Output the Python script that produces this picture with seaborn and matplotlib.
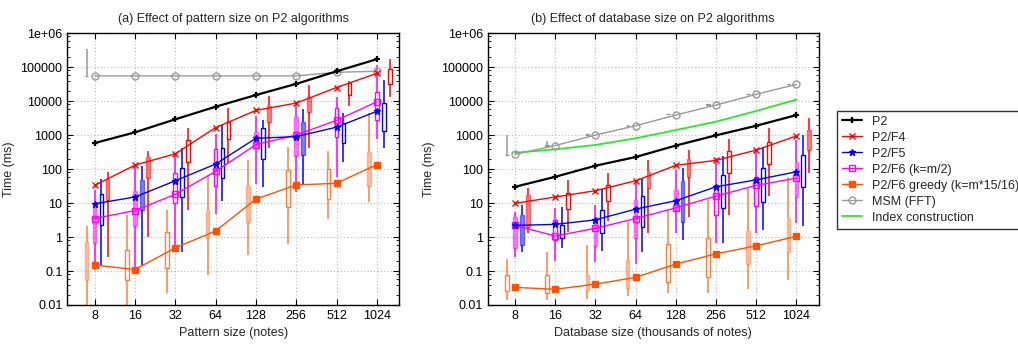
import numpy as np
import matplotlib
matplotlib.use("Agg")
import matplotlib.pyplot as plt
from matplotlib.lines import Line2D
import seaborn as sns
import pandas as pd

# ---------------- data ----------------
SIZES = [8, 16, 32, 64, 128, 256, 512, 1024]
TICK_LABELS = ["8", "16", "32", "64", "128", "256", "512", "1024"]
Y_TICKS = [0.01, 0.1, 1, 10, 100, 1000, 10000, 100000, 1e6]
Y_TICK_LABELS = ["0.01", "0.1", "1", "10", "100", "1000", "10000", "100000", "1e+06"]
NAN = float("nan")

# Panel (a): pattern size -- line values
A_P2 = [580, 1200, 2900, 6800, 15000, 32000, 75000, 170000]
A_F4 = [33, 130, 280, 1650, 5300, 8700, 25000, 65000]
A_F5 = [9.5, 15, 45, 140, 800, 900, 1700, 5000]
A_F6 = [3.5, 6, 18, 85, 520, 1000, 2700, 9500]
A_GREEDY = [0.15, 0.11, 0.48, 1.5, 13, 34, 38, 135]
A_MSM = [55000, 55000, 55000, 55000, 55000, 55000, 70000, 75000]

# Panel (a) candlesticks: whisker high, box top, box bottom, whisker low, filled
A_F4_HI = [83, 350, 1600, 6100, 14000, 29000, 40000, 170000]
A_F4_Q3 = [51, 230, 710, 2470, 7100, 13500, 35000, 85000]
A_F4_Q1 = [12, 55, 160, 740, 2470, 4900, 15000, 31500]
A_F4_LO = [0.26, 1.0, 6.2, 155, 410, 410, 7100, 13400]
A_F4_FILL = [1, 1, 0, 0, 1, 1, 0, 0]

A_F5_HI = [51, 122, 410, 1950, 2750, 5700, 4400, 41000]
A_F5_Q3 = [18, 46, 105, 410, 1580, 2350, 2300, 8900]
A_F5_Q1 = [2.2, 6.2, 15.5, 54, 195, 260, 570, 1350]
A_F5_LO = [0.15, 0.15, 0.37, 11.7, 29, 34, 160, 410]
A_F5_FILL = [0, 1, 0, 0, 0, 1, 0, 0]

A_F6_HI = [24, 117, 260, 1070, 3600, 7600, 13000, 115000]
A_F6_Q3 = [8.7, 22, 76, 380, 1250, 3300, 6100, 18500]
A_F6_Q1 = [0.66, 2.1, 9.7, 32, 410, 240, 850, 2750]
A_F6_LO = [0.107, 0.11, 0.42, 4.8, 36, 21, 59, 790]
A_F6_FILL = [1, 1, 0, 0, 1, 1, 0, 0]

A_GR_HI = [2.1, 4.5, 6.2, 66, 180, 430, 350, 4400]
A_GR_Q3 = [0.7, 0.42, 1.4, 6.2, 32, 93, 98, 320]
A_GR_Q1 = [0.055, 0.055, 0.12, 0.91, 2.8, 7.4, 13, 32]
A_GR_LO = [0.005, 0.005, 0.022, 0.076, 0.3, 0.62, 3.5, 11]
A_GR_FILL = [1, 0, 0, 1, 1, 0, 0, 1]

A_MSM_HI = [340000, NAN, NAN, NAN, NAN, NAN, NAN, NAN]
A_MSM_Q3 = [56000, NAN, NAN, NAN, NAN, NAN, NAN, NAN]
A_MSM_Q1 = [54000, NAN, NAN, NAN, NAN, NAN, NAN, NAN]
A_MSM_LO = [53000, NAN, NAN, NAN, NAN, NAN, NAN, NAN]

# Panel (b): database size -- line values
B_P2 = [30, 59, 125, 225, 490, 980, 1870, 3870]
B_F4 = [9.8, 15, 23, 45, 128, 180, 360, 940]
B_F5 = [2.2, 2.35, 3.2, 6.6, 11.7, 30, 48, 83]
B_F6 = [2.2, 1.07, 1.8, 3.5, 7.2, 16, 33, 54]
B_GREEDY = [0.033, 0.029, 0.041, 0.065, 0.16, 0.32, 0.55, 1.05]
B_MSM = [270, 490, 1000, 1870, 3870, 7600, 15800, 31000]
B_INDEX = [300, 380, 510, 800, 1400, 2470, 5100, 11000]

B_F4_HI = [27, 46, 74, 180, 360, 740, 1600, 3100]
B_F4_Q3 = [17, 20, 34, 83, 195, 350, 640, 1400]
B_F4_Q1 = [2.0, 6.5, 11.7, 27, 59, 76, 145, 360]
B_F4_LO = [1.35, 1.45, 3.0, 1.35, 4.0, 4.5, 16, 75]
B_F4_FILL = [1, 0, 0, 1, 1, 0, 0, 1]

B_F5_HI = [8.7, 7.8, 26, 54, 105, 240, 440, 1000]
B_F5_Q3 = [4.5, 2.2, 6.2, 16, 43, 66, 105, 260]
B_F5_Q1 = [0.58, 0.91, 1.3, 2.0, 2.8, 6.9, 11, 29]
B_F5_LO = [0.37, 0.47, 0.4, 0.37, 0.81, 0.65, 1.6, 2.1]
B_F5_FILL = [1, 0, 0, 0, 1, 0, 0, 0]

B_F6_HI = [5.5, 6.9, 8.7, 43, 93, 205, 360, 710]
B_F6_Q3 = [4.0, 3.2, 4.0, 12.3, 24, 34, 59, 160]
B_F6_Q1 = [0.47, 0.81, 0.55, 0.91, 6.2, 4.5, 8.0, 15.5]
B_F6_LO = [0.26, 0.2, 0.19, 0.16, 1.3, 0.67, 1.35, 2.6]
B_F6_FILL = [1, 0, 1, 1, 1, 0, 0, 1]

B_GR_HI = [0.23, 0.37, 0.58, 2.8, 6.2, 12.3, 27, 59]
B_GR_Q3 = [0.076, 0.076, 0.076, 0.21, 0.62, 0.91, 1.5, 3.6]
B_GR_Q1 = [0.025, 0.022, 0.027, 0.031, 0.049, 0.065, 0.16, 0.37]
B_GR_LO = [0.014, 0.014, 0.015, 0.018, 0.022, 0.022, 0.029, 0.053]
B_GR_FILL = [0, 0, 1, 1, 0, 0, 1, 1]

B_MSM_HI = [1000, 650, 1060, 1950, 4200, 8100, 16500, 32500]
B_MSM_Q3 = [265, 500, 1040, 1900, 4100, 7950, 16000, 32000]
B_MSM_Q1 = [255, 490, 1020, 1880, 4050, 7850, 15800, 31500]
B_MSM_LO = [250, 480, 1000, 1850, 4000, 7700, 15500, 31000]

LEGEND_LABELS = ["P2", "P2/F4", "P2/F5", "P2/F6 (k=m/2)",
                 "P2/F6 greedy (k=m*15/16)", "MSM (FFT)", "Index construction"]

# ---------------- style ----------------
C_P2 = "#000000"
C_F4 = "#ff0000"
C_F5 = "#0000ff"
C_F6 = "#ff00ff"
C_GR = "#ff5000"
C_GR_BOX = "#ff7f40"
C_MSM = "#999999"
C_IDX = "#22ee22"

sns.set_theme(style="ticks")
plt.rcParams["font.family"] = ["Liberation Sans", "DejaVu Sans"]
plt.rcParams["font.size"] = 9

fig = plt.figure(figsize=(10.18, 3.46), dpi=100)
ax_a = fig.add_axes([0.0661, 0.1185, 0.3259, 0.786])
ax_b = fig.add_axes([0.4791, 0.1185, 0.3250, 0.786])

X = np.log2(SIZES)
BOX_W = 0.09


def draw_boxes(ax, off, hi, q3, q1, lo, fill, color, alpha_fill=0.5):
    for i, x in enumerate(X):
        if np.isnan(hi[i]):
            continue
        xx = x + off
        ax.vlines(xx, q3[i], hi[i], color=color, lw=1.1, zorder=2)
        ax.vlines(xx, lo[i], q1[i], color=color, lw=1.1, zorder=2)
        if fill is not None and fill[i]:
            ax.bar(xx, q3[i] - q1[i], bottom=q1[i], width=BOX_W,
                   facecolor=color, alpha=alpha_fill, edgecolor=color,
                   lw=1.0, zorder=2)
        else:
            ax.bar(xx, q3[i] - q1[i], bottom=q1[i], width=BOX_W,
                   facecolor="none", edgecolor=color, lw=1.0, zorder=2)


def draw_line(ax, vals, color, marker, ms, lw=1.0, mfc=None, mew=1.0):
    df = pd.DataFrame({"x": X, "y": vals})
    sns.lineplot(data=df, x="x", y="y", ax=ax, color=color, lw=lw,
                 marker=marker, markersize=ms,
                 markerfacecolor=color if mfc is None else mfc,
                 markeredgecolor=color, markeredgewidth=mew, zorder=3)


def style_axis(ax, title, xlabel):
    ax.set_yscale("log")
    ax.set_ylim(0.01, 1e6)
    ax.set_xlim(np.log2(5), np.log2(1500))
    ax.set_xticks(X)
    ax.set_xticklabels(TICK_LABELS)
    ax.set_yticks(Y_TICKS)
    ax.set_yticklabels(Y_TICK_LABELS)
    ax.yaxis.set_minor_locator(matplotlib.ticker.LogLocator(base=10, subs=(2, 4, 6, 8), numticks=20))
    ax.yaxis.set_minor_formatter(matplotlib.ticker.NullFormatter())
    ax.tick_params(axis="both", which="both", direction="in", top=True, right=True,
                   labelsize=9, colors="#000000")
    ax.tick_params(axis="y", which="major", length=4, width=0.8)
    ax.tick_params(axis="y", which="minor", length=2, width=0.6)
    ax.tick_params(axis="x", which="major", length=4, width=0.8)
    ax.grid(True, which="major", color="#bbbbbb", ls=(0, (1, 2)), lw=0.8, zorder=0)
    for s in ax.spines.values():
        s.set_color("#000000")
        s.set_linewidth(1.0)
        s.set_visible(True)
    ax.set_title(title, fontsize=9, pad=8)
    ax.set_xlabel(xlabel, fontsize=9, labelpad=4)
    ax.set_ylabel("Time (ms)", fontsize=9, labelpad=4)


# ---------------- panel (a) ----------------
draw_boxes(ax_a, -0.2, A_MSM_HI, A_MSM_Q3, A_MSM_Q1, A_MSM_LO, None, C_MSM)
draw_boxes(ax_a, -0.2, A_GR_HI, A_GR_Q3, A_GR_Q1, A_GR_LO, A_GR_FILL, C_GR_BOX)
draw_boxes(ax_a, 0.0, A_F6_HI, A_F6_Q3, A_F6_Q1, A_F6_LO, A_F6_FILL, C_F6)
draw_boxes(ax_a, 0.17, A_F5_HI, A_F5_Q3, A_F5_Q1, A_F5_LO, A_F5_FILL, C_F5)
draw_boxes(ax_a, 0.32, A_F4_HI, A_F4_Q3, A_F4_Q1, A_F4_LO, A_F4_FILL, C_F4)

draw_line(ax_a, A_MSM, C_MSM, "o", 5, mfc="none")
draw_line(ax_a, A_GREEDY, C_GR, "s", 5)
draw_line(ax_a, A_F6, C_F6, "s", 5, mfc="none")
draw_line(ax_a, A_F5, C_F5, "*", 5)
draw_line(ax_a, A_F4, C_F4, "x", 5)
draw_line(ax_a, A_P2, C_P2, "+", 5, lw=1.6, mew=1.6)
style_axis(ax_a, "(a) Effect of pattern size on P2 algorithms", "Pattern size (notes)")

# ---------------- panel (b) ----------------
draw_boxes(ax_b, -0.2, B_MSM_HI, B_MSM_Q3, B_MSM_Q1, B_MSM_LO, None, C_MSM)
draw_boxes(ax_b, -0.2, B_GR_HI, B_GR_Q3, B_GR_Q1, B_GR_LO, B_GR_FILL, C_GR_BOX)
draw_boxes(ax_b, 0.0, B_F6_HI, B_F6_Q3, B_F6_Q1, B_F6_LO, B_F6_FILL, C_F6)
draw_boxes(ax_b, 0.17, B_F5_HI, B_F5_Q3, B_F5_Q1, B_F5_LO, B_F5_FILL, C_F5)
draw_boxes(ax_b, 0.32, B_F4_HI, B_F4_Q3, B_F4_Q1, B_F4_LO, B_F4_FILL, C_F4)

df_idx = pd.DataFrame({"x": X, "y": B_INDEX})
sns.lineplot(data=df_idx, x="x", y="y", ax=ax_b, color=C_IDX, lw=1.3, zorder=3)
draw_line(ax_b, B_MSM, C_MSM, "o", 5, mfc="none")
draw_line(ax_b, B_GREEDY, C_GR, "s", 5)
draw_line(ax_b, B_F6, C_F6, "s", 5, mfc="none")
draw_line(ax_b, B_F5, C_F5, "*", 5)
draw_line(ax_b, B_F4, C_F4, "x", 5)
draw_line(ax_b, B_P2, C_P2, "+", 5, lw=1.6, mew=1.6)
style_axis(ax_b, "(b) Effect of database size on P2 algorithms",
           "Database size (thousands of notes)")

# ---------------- legend ----------------
handles = [
    Line2D([], [], color=C_P2, lw=1.6, marker="+", ms=5, mew=1.6),
    Line2D([], [], color=C_F4, lw=1.0, marker="x", ms=5),
    Line2D([], [], color=C_F5, lw=1.0, marker="*", ms=5),
    Line2D([], [], color=C_F6, lw=1.0, marker="s", ms=5, mfc="none"),
    Line2D([], [], color=C_GR, lw=1.0, marker="s", ms=5),
    Line2D([], [], color=C_MSM, lw=1.0, marker="o", ms=5, mfc="none"),
    Line2D([], [], color=C_IDX, lw=1.3),
]
leg = fig.legend(handles, LEGEND_LABELS, loc="upper left",
                 bbox_to_anchor=(0.822, 0.68), fontsize=9, frameon=True,
                 fancybox=False, handlelength=1.6, handletextpad=0.8,
                 labelspacing=0.32, borderpad=0.4, borderaxespad=0.0)
leg.get_frame().set_edgecolor("#000000")
leg.get_frame().set_linewidth(1.0)

fig.savefig("out.png", dpi=100)
